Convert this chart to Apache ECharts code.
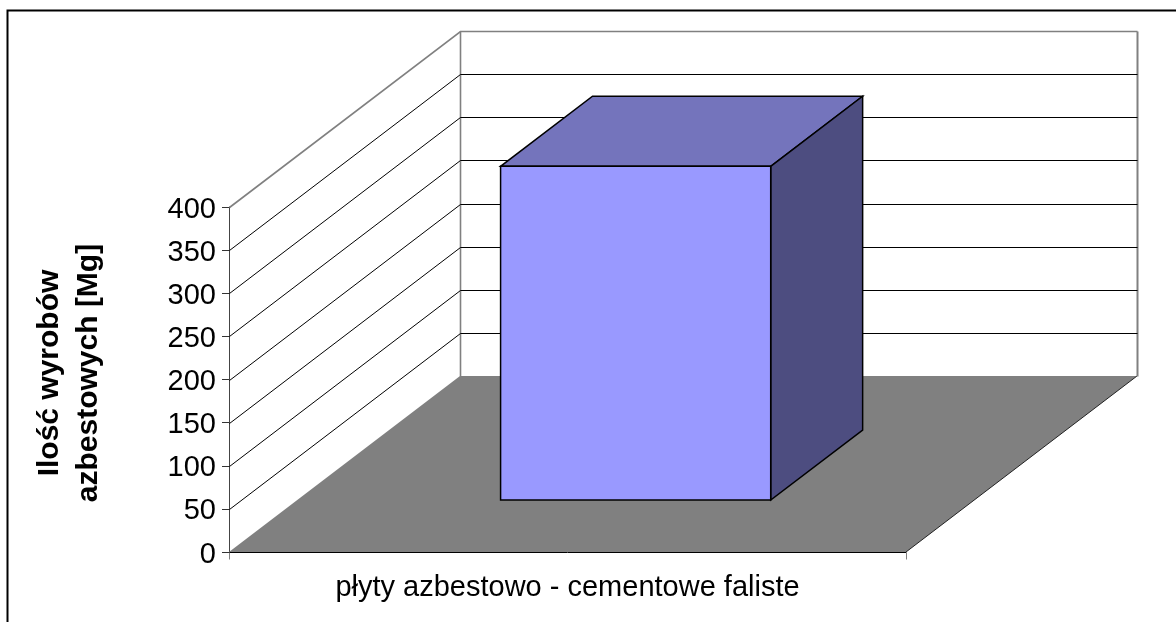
<!DOCTYPE html>
<html><head><meta charset="utf-8">
<style>html,body{margin:0;padding:0;background:#fff}#c{width:1176px;height:622px}</style>
<script src="https://cdn.jsdelivr.net/npm/echarts@6/dist/echarts.min.js"></script>
</head><body><div id="c"></div>
<script>
const categories = ['płyty azbestowo - cementowe faliste'];
const values = [387];
const yTicks = [0, 50, 100, 150, 200, 250, 300, 350, 400];
const yAxisTitle = 'Ilość wyrobów\nazbestowych [Mg]';

// projection of the pseudo-3D box (styling, not data)
const DEPTH_X = 231, DEPTH_Y = -176;
const BAR_W = 0.399, BAR_D0 = 0.295, BAR_D1 = 0.693;
const GREY = '#808080';
const font = '"Liberation Sans", Arial, sans-serif';

const chart = echarts.init(document.getElementById('c'), null, {renderer: 'canvas'});
const crisp = p => [Math.round(p[0]) + 0.5, Math.round(p[1]) + 0.5];
const off = (p, d) => [p[0] + DEPTH_X * d, p[1] + DEPTH_Y * d];

function renderGrid(params, api) {
  const v = api.value(0);
  const a = api.coord([0, v]);
  const r = params.coordSys;
  const left = [r.x, a[1]], right = [r.x + r.width, a[1]];
  const top = v === yTicks[yTicks.length - 1];
  const col = top ? GREY : '#000';
  const backL = crisp(off(left, 1)), backR = crisp(off(right, 1));
  const kids = [];
  if (v !== yTicks[0]) {
    kids.push({type: 'polyline', shape: {points: [crisp(left), backL, backR]},
      style: {stroke: col, fill: null, lineWidth: top ? 1.6 : 1}});
  }
  return {type: 'group', children: kids};
}

function renderWalls(params, api) {
  const r = params.coordSys;
  const lo = api.coord([0, yTicks[0]])[1], hi = api.coord([0, yTicks[yTicks.length - 1]])[1];
  const fl = [r.x, lo], fr = [r.x + r.width, lo];
  const tick = p => ({type: 'polyline',
    shape: {points: [crisp(p), crisp([p[0], p[1] + 7])]},
    style: {stroke: GREY, fill: null, lineWidth: 1}});
  return {type: 'group', children: [
    {type: 'polygon', shape: {points: [fl, fr, off(fr, 1), off(fl, 1)]},
      style: {fill: GREY, stroke: null}},
    {type: 'line', shape: {x1: fr[0], y1: fr[1], x2: off(fr, 1)[0], y2: off(fr, 1)[1]},
      style: {stroke: '#222', lineWidth: 1}},
    {type: 'polyline', shape: {points: [crisp(off([r.x, hi], 1)), crisp(off(fl, 1))]},
      style: {stroke: GREY, fill: null, lineWidth: 1.6}},
    {type: 'polyline', shape: {points: [crisp(off([r.x + r.width, hi], 1)), crisp(off(fr, 1))]},
      style: {stroke: GREY, fill: null, lineWidth: 2}},
    tick(fl), tick(fr)
  ]};
}

function renderBar(params, api) {
  const c = api.value(0), v = api.value(1);
  const base = api.coord([c, 0]), tip = api.coord([c, v]);
  const w = api.size([1, 0])[0] * BAR_W;
  const x0 = base[0] - w / 2, x1 = base[0] + w / 2;
  const A = off([x0, tip[1]], BAR_D0), B = off([x1, tip[1]], BAR_D0);
  const C = off([x1, base[1]], BAR_D0), D = off([x0, base[1]], BAR_D0);
  const A2 = off([x0, tip[1]], BAR_D1), B2 = off([x1, tip[1]], BAR_D1), C2 = off([x1, base[1]], BAR_D1);
  const edge = {stroke: '#000', lineWidth: 1.5, lineJoin: 'miter'};
  return {type: 'group', children: [
    {type: 'polygon', shape: {points: [A, B, B2, A2]}, style: Object.assign({fill: '#7474BC'}, edge)},
    {type: 'polygon', shape: {points: [B, C, C2, B2]}, style: Object.assign({fill: '#4D4D80'}, edge)},
    {type: 'polygon', shape: {points: [A, B, C, D]}, style: Object.assign({fill: '#9999FF'}, edge)}
  ]};
}

chart.setOption({
  animation: false,
  backgroundColor: '#fff',
  grid: {left: 229, top: 207, width: 677, height: 345, containLabel: false, outerBoundsMode: 'none'},
  graphic: [{type: 'polyline', silent: true, z: 100,
    shape: {points: [[7.5, 622], [7.5, 10.5], [1176, 10.5]]},
    style: {stroke: '#000', lineWidth: 2, fill: null}}],
  xAxis: {type: 'category', data: categories,
    axisLine: {lineStyle: {color: '#000', width: 1}},
    axisTick: {show: false},
    axisLabel: {color: '#000', fontFamily: font, fontSize: 29, margin: 21},
    splitLine: {show: false}},
  yAxis: {type: 'value', min: 0, max: 400, interval: 50,
    name: yAxisTitle, nameLocation: 'middle', nameRotate: 90, nameGap: 121,
    nameTextStyle: {color: '#000', fontFamily: font, fontSize: 30, fontWeight: 'bold', lineHeight: 39, align: 'center', padding: [0, 0, 0, 13]},
    axisLine: {show: true, lineStyle: {color: '#444', width: 1}},
    axisTick: {show: true, length: 7, lineStyle: {color: '#333'}},
    axisLabel: {color: '#000', fontFamily: font, fontSize: 29, margin: 13, verticalAlign: 'top', lineHeight: 5},
    splitLine: {show: false}},
  series: [
    {type: 'custom', silent: true, clip: false, z: 1, renderItem: renderWalls, data: [[0]]},
    {type: 'custom', silent: true, clip: false, z: 2, renderItem: renderGrid,
      encode: {y: 0}, data: yTicks.map(t => [t])},
    {type: 'custom', silent: true, clip: false, z: 3, renderItem: renderBar,
      encode: {x: 0, y: 1}, data: values.map((v, i) => [i, v])}
  ]
});
</script></body></html>
